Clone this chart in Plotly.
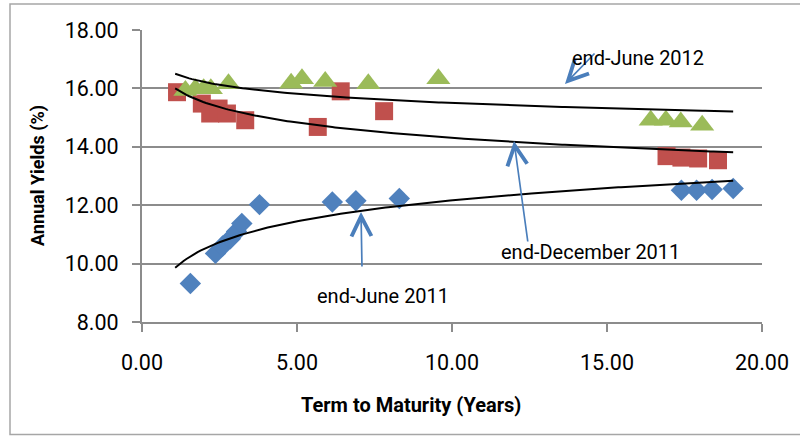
import numpy as np
import plotly.graph_objects as go

# ---- data ----
jun11_x = [1.56, 2.37, 2.60, 2.85, 3.05, 3.22, 3.79, 6.14, 6.90, 8.30, 17.40, 17.89, 18.39, 19.07]
jun11_y = [9.32, 10.35, 10.60, 10.85, 11.10, 11.37, 12.02, 12.11, 12.15, 12.23, 12.51, 12.51, 12.54, 12.57]

dec11_x = [1.13, 1.93, 2.20, 2.47, 2.74, 3.33, 5.67, 6.41, 7.81, 16.92, 17.40, 17.94, 18.58]
dec11_y = [15.87, 15.48, 15.14, 15.31, 15.14, 14.91, 14.68, 15.90, 15.22, 13.68, 13.63, 13.60, 13.54]

jun12_x = [1.40, 1.72, 1.99, 2.22, 2.79, 4.81, 5.16, 5.91, 7.30, 9.56, 16.41, 16.90, 17.38, 18.07]
jun12_y = [15.93, 15.99, 15.99, 15.99, 16.16, 16.18, 16.33, 16.24, 16.16, 16.33, 14.91, 14.91, 14.85, 14.74]

x_ticks = [0, 5, 10, 15, 20]
y_ticks = [8, 10, 12, 14, 16, 18]

FONT = "Roboto, Arial, sans-serif"

W, H = 800, 436
L, R, T, B = 142, 38, 30, 114
PW, PH = W - L - R, H - T - B

all_x = jun11_x + dec11_x + jun12_x
xs = np.linspace(min(all_x) - 0.06, max(all_x), 200)


def log_fit(x, y):
    b, a = np.polyfit(np.log(x), y, 1)
    return a + b * np.log(xs)


def to_data(px, py):
    return (px - L) / PW * 20.0, 8 + (H - B - py) / PH * 10.0


def to_paper(px, py):
    return (px - L) / PW, (H - B - py) / PH


fig = go.Figure()
series = [
    (jun11_x, jun11_y, "diamond", "#4F81BD", 16.5, "end-June 2011"),
    (dec11_x, dec11_y, "square", "#C0504D", 18, "end-December 2011"),
    (jun12_x, jun12_y, "triangle-up", "#9BBB59", 21, "end-June 2012"),
]
for x, y, sym, col, sz, name in series:
    fig.add_trace(go.Scatter(x=x, y=y, mode="markers", name=name,
                             marker=dict(symbol=sym, color=col, size=sz, line=dict(width=0))))
for x, y, sym, col, sz, name in series:
    fig.add_trace(go.Scatter(x=xs, y=log_fit(x, y), mode="lines", showlegend=False,
                             line=dict(color="black", width=2)))

arrow_col = "#4A7EBB"
# (tip pixel, tail pixel) for callout arrows
arrows = [((565, 84), (596, 52)), ((514, 141), (528, 243)), ((361, 212), (362, 268))]
for (tx, ty), (sx, sy) in arrows:
    dx, dy = to_data(tx, ty)
    fig.add_annotation(x=dx, y=dy, xref="x", yref="y", ax=sx - tx, ay=sy - ty,
                       text="", showarrow=True, arrowhead=5, arrowsize=2.3,
                       arrowwidth=1.7, arrowcolor=arrow_col)

labels = [("end-June 2012", 638, 58), ("end-December 2011", 590, 252), ("end-June 2011", 383, 296)]
for t, tx, ty in labels:
    px_, py_ = to_paper(tx, ty)
    fig.add_annotation(x=px_, y=py_, xref="paper", yref="paper", text=t, showarrow=False,
                       xanchor="center", yanchor="middle",
                       font=dict(family=FONT, size=20, color="black"))

# axis titles
px_, py_ = to_paper(411, 405)
fig.add_annotation(x=px_, y=py_, xref="paper", yref="paper", text="<b>Term to Maturity (Years)</b>",
                   showarrow=False, xanchor="center", yanchor="middle",
                   font=dict(family=FONT, size=20, color="black"))
px_, py_ = to_paper(38, 175)
fig.add_annotation(x=px_, y=py_, xref="paper", yref="paper", text="<b>Annual Yields (%)</b>",
                   showarrow=False, xanchor="center", yanchor="middle", textangle=-90,
                   font=dict(family=FONT, size=18, color="black"))

# outer chart border
x0, y1 = to_paper(10, 4)
x1, y0 = to_paper(806, 434.5)
fig.add_shape(type="rect", xref="paper", yref="paper", x0=x0, x1=x1, y0=y0, y1=y1,
              line=dict(color="#A6A6A6", width=1.5), layer="below")

axis_col = "#8C8C8C"
fig.update_layout(
    width=W, height=H,
    margin=dict(l=L, r=R, t=T, b=B, pad=0),
    paper_bgcolor="white", plot_bgcolor="white",
    showlegend=False,
    font=dict(family=FONT, size=21, color="black"),
    xaxis=dict(range=[0, 20], tickvals=x_ticks, ticktext=[f"{v:.2f}" for v in x_ticks],
               showgrid=False, zeroline=False, showline=True, linecolor=axis_col, linewidth=2,
               ticks="outside", ticklen=8, tickcolor=axis_col, tickwidth=2,
               ticklabelstandoff=12, automargin=False,
               tickfont=dict(size=21.5, family=FONT, color="black")),
    yaxis=dict(range=[8, 18], tickvals=y_ticks, ticktext=[f"{v:.2f}" for v in y_ticks],
               showgrid=True, gridcolor=axis_col, gridwidth=2, zeroline=False,
               showline=True, linecolor=axis_col, linewidth=2,
               ticks="outside", ticklen=8, tickcolor=axis_col, tickwidth=2,
               ticklabelstandoff=9, automargin=False,
               tickfont=dict(size=21.5, family=FONT, color="black")),
)

fig.write_html("out.html", config={"displayModeBar": False},
               post_script="document.body.style.margin='0';")
